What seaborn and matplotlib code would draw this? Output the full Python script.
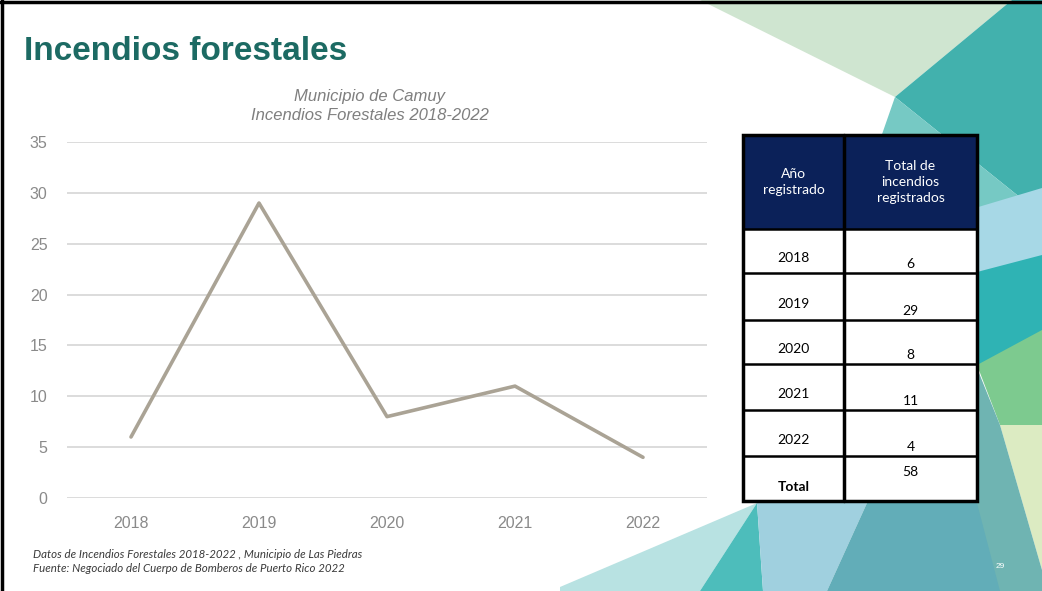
import matplotlib
matplotlib.use("Agg")
import matplotlib.pyplot as plt
from matplotlib.patches import Polygon, Rectangle
import seaborn as sns
import pandas as pd

# datos del grafico
anios = ["2018", "2019", "2020", "2021", "2022"]
incendios = [6, 29, 8, 11, 4]
yticks = [0, 5, 10, 15, 20, 25, 30, 35]

titulo = "Incendios forestales"
subtitulo = "Municipio de Camuy\nIncendios Forestales 2018-2022"
encabezado = ["Año\nregistrado", "Total de\nincendios\nregistrados"]
nota = ["Datos de Incendios Forestales 2018-2022 , Municipio de Las Piedras",
        "Fuente: Negociado del Cuerpo de Bomberos de Puerto Rico 2022"]

sns.set_theme(style="white")
plt.rcParams['font.family'] = ['Liberation Sans', 'DejaVu Sans']

fig = plt.figure(figsize=(10.42, 5.91), dpi=100)

# fondo en coordenadas de pixel
bg = fig.add_axes([0, 0, 1, 1])
bg.set_xlim(0, 1042)
bg.set_ylim(591, 0)
bg.axis('off')

poligonos = [
    ([(700, 0), (1012, 0), (895, 97)], '#cfe5d0'),
    ([(1012, 0), (1042, 0), (1042, 215), (895, 97)], '#42b1ad'),
    ([(895, 97), (1042, 215), (1042, 225), (975, 210), (880, 140)], '#76c9c4'),
    ([(975, 208), (1042, 188), (1042, 262), (977, 272)], '#a7d8e6'),
    ([(977, 272), (1042, 255), (1042, 345), (977, 370)], '#2fb3b4'),
    ([(977, 365), (1042, 330), (1042, 425), (1000, 425)], '#7dca8f'),
    ([(1000, 425), (1042, 425), (1042, 570)], '#dcebc2'),
    ([(977, 368), (1000, 425), (1042, 570), (1042, 591), (880, 591), (977, 500)], '#6fb4b2'),
    ([(560, 591), (560, 587), (757, 503), (700, 591)], '#b8e2e2'),
    ([(700, 591), (757, 503), (763, 591)], '#4dbdbb'),
    ([(757, 503), (867, 503), (827, 591), (763, 591)], '#a0d0df'),
    ([(867, 503), (977, 503), (1000, 591), (827, 591)], '#62adb8'),
]
for pts, col in poligonos:
    bg.add_patch(Polygon(pts, closed=True, facecolor=col, edgecolor='none', zorder=0))

# marco negro
bg.plot([2, 2], [0, 591], color='black', lw=2.5, zorder=5)
bg.plot([0, 1042], [2, 2], color='black', lw=2.5, zorder=5)

bg.text(24, 51, titulo, fontsize=24, fontweight='bold', color='#1c6a63', va='center', ha='left')
bg.text(370, 106, subtitulo, fontsize=12, style='italic', color='#7f7f7f',
        ha='center', va='center', linespacing=1.25)

for i, linea in enumerate(nota):
    bg.text(33, 555 + i * 14, linea, fontsize=8.3, style='italic', color='#3a3a3a',
            ha='left', va='center', family=['Lato', 'DejaVu Sans'])
bg.text(1000, 566, "29", fontsize=6, color='white', ha='center', va='center')

# tabla
x0, x1, xm = 743, 977, 844
filas = [135, 229, 273, 320, 364, 410, 456, 501]
bg.add_patch(Rectangle((x0, filas[0]), x1 - x0, filas[1] - filas[0], facecolor='#0b2159',
                       edgecolor='none', zorder=3))
bg.add_patch(Rectangle((x0, filas[1]), x1 - x0, filas[-1] - filas[1], facecolor='white',
                       edgecolor='none', zorder=3))
for y in filas[1:-1]:
    bg.plot([x0, x1], [y, y], color='black', lw=1.8, zorder=4)
bg.plot([xm, xm], [filas[0], filas[-1]], color='black', lw=2.5, zorder=4)
bg.add_patch(Rectangle((x0, filas[0]), x1 - x0, filas[-1] - filas[0], facecolor='none',
                       edgecolor='black', lw=2.5, zorder=4))

tfont = ['Lato', 'DejaVu Sans']
bg.text((x0 + xm) / 2, 182, encabezado[0], color='white', fontsize=10, ha='center', va='center',
        linespacing=1.45, family=tfont, zorder=5)
bg.text((xm + x1) / 2, 182, encabezado[1], color='white', fontsize=10, ha='center', va='center',
        linespacing=1.45, family=tfont, zorder=5)
for i, (a, v) in enumerate(zip(anios, incendios)):
    top, bot = filas[i + 1], filas[i + 2]
    bg.text((x0 + xm) / 2, top + 0.65 * (bot - top), a, fontsize=10, ha='center', va='center',
            family=tfont, color='black', zorder=5)
    bg.text((xm + x1) / 2, top + 0.8 * (bot - top), str(v), fontsize=10, ha='center', va='center',
            family=tfont, color='black', zorder=5)
bg.text((x0 + xm) / 2, 487, "Total", fontsize=10, fontweight='bold', ha='center', va='center',
        family=tfont, color='black', zorder=5)
bg.text((xm + x1) / 2, 472, str(sum(incendios)), fontsize=10, ha='center', va='center',
        family=tfont, color='black', zorder=5)

# grafico de linea
df = pd.DataFrame({"Año": anios, "Incendios": incendios})
ax = fig.add_axes([67 / 1042, 1 - 498 / 591, 640 / 1042, 356 / 591])
ax.set_facecolor('none')
sns.lineplot(data=df, x="Año", y="Incendios", ax=ax, color='#aaa395', lw=2.6, sort=False)
ax.set_xlim(-0.5, 4.5)
ax.set_ylim(0, 35)
ax.set_yticks(yticks)
ax.yaxis.grid(True, color='#d9d9d9', lw=1.3)
ax.xaxis.grid(False)
ax.set_axisbelow(True)
for s in ax.spines.values():
    s.set_visible(False)
ax.set_xlabel("")
ax.set_ylabel("")
ax.tick_params(axis='both', length=0, labelsize=11.5, colors='#8a8a8a')
ax.tick_params(axis='y', pad=14)
ax.tick_params(axis='x', pad=13)

fig.savefig("out.png", dpi=100)
